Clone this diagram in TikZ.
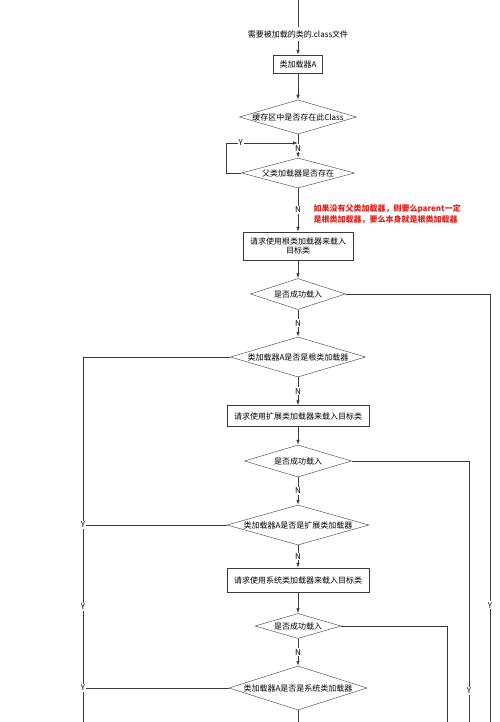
\documentclass[tikz,border=0pt]{standalone}
\usepackage{fontspec}
\setmainfont{Noto Sans CJK SC}
\usetikzlibrary{shapes.geometric,arrows.meta}
\definecolor{linegray}{HTML}{3A3A3A}
\definecolor{notered}{HTML}{E3211C}

\begin{document}
\begin{tikzpicture}[x=1pt,y=-1pt,
  every node/.style={font=\fontsize{8}{9.6}\selectfont, text=black},
  proc/.style={draw=linegray, rectangle, inner sep=0pt, minimum height=20pt, align=center},
  dec/.style={draw=linegray, diamond, aspect=3.4, inner sep=0pt},
  lbl/.style={fill=white, inner sep=1pt},
  flow/.style={draw=linegray, line width=0.8pt, -{Latex[length=5pt,width=3.5pt]}},
  wire/.style={draw=linegray, line width=0.8pt}]
\useasboundingbox (0,0) rectangle (500,722);
%\draw[step=50pt,gray,very thin] (0,0) grid (500,722); %background grid

% main column
\coordinate (top) at (298,0);
\node (src) at (298,34) {需要被加载的类的.class文件};
\node[proc, minimum width=49pt, minimum height=18pt] (loadA) at (298,64) {类加载器A};
\node[dec, minimum width=117pt, minimum height=34pt] (cache) at (298,117) {缓存区中是否存在此Class};
\node[dec, minimum width=113pt, minimum height=30pt] (parent) at (298,173) {父类加载器是否存在};
\node[proc, minimum width=110pt, minimum height=28pt] (reqroot) at (298,246) {请求使用根类加载器来载入\\目标类};
\node[dec, minimum width=95pt, minimum height=31pt] (ok1) at (298,294) {是否成功载入};
\node[dec, minimum width=135pt, minimum height=40pt] (isroot) at (298,357) {类加载器A是否是根类加载器};
\node[proc, minimum width=142pt, minimum height=21pt] (reqext) at (298,416) {请求使用扩展类加载器来载入目标类};
\node[dec, minimum width=107pt, minimum height=32pt] (ok2) at (298,461) {是否成功载入};
\node[dec, minimum width=142pt, minimum height=40pt] (isext) at (298,525) {类加载器A是否是扩展类加载器};
\node[proc, minimum width=142pt, minimum height=24pt] (reqsys) at (298,580) {请求使用系统类加载器来载入目标类};
\node[dec, minimum width=86pt, minimum height=25pt] (ok3) at (298,626) {是否成功载入};
\node[dec, minimum width=138pt, minimum height=44pt] (issys) at (298,688) {类加载器A是否是系统类加载器};
\coordinate (bot) at (298,722);

% note
\node[anchor=west, align=left, text=notered, font=\fontsize{8}{11}\selectfont\bfseries] (note) at (310,214.5)
  {如果没有父类加载器，则要么parent一定\\是根类加载器，要么本身就是根类加载器};

% free ends
\coordinate (loopin) at (298,143);
\coordinate (lroot) at (83,357);
\coordinate (lext) at (83,525);
\coordinate (lsys) at (83,688);
\coordinate (lbot) at (83,722);
\coordinate (r1) at (490,294);
\coordinate (r1b) at (490,722);
\coordinate (r2) at (469,461);
\coordinate (r2b) at (469,722);
\coordinate (r3) at (447,626);
\coordinate (r3b) at (447,722);

% down the middle
\draw[wire] (top) -- (src);
\draw[flow] (src) -- (loadA);
\draw[flow] (loadA) -- (cache);
\draw[flow] (cache) -- node[lbl, pos=0.6]{N} (parent);
\draw[flow] (parent) -- node[lbl]{N} (reqroot);
\draw[flow] (reqroot) -- (ok1);
\draw[flow] (ok1) -- node[lbl]{N} (isroot);
\draw[flow] (isroot) -- node[lbl]{N} (reqext);
\draw[flow] (reqext) -- (ok2);
\draw[flow] (ok2) -- node[lbl]{N} (isext);
\draw[flow] (isext) -- node[lbl]{N} (reqsys);
\draw[flow] (reqsys) -- (ok3);
\draw[flow] (ok3) -- node[lbl]{N} (issys);
\draw[wire] (issys) -- (bot);

% Y loop back
\draw[flow] (parent.west) -- ++(-15,0) |- node[lbl, pos=0.6]{Y} (loopin);

% Y branches left
\draw[wire] (isroot.west) -- (lroot) -- node[lbl, pos=0.685]{Y} (lbot);
\draw[wire] (isext.west) -- (lext) node[lbl, above=-4pt]{Y};
\draw[wire] (issys.west) -- (lsys) node[lbl]{Y};

% Y branches right
\draw[wire] (ok1.east) -- (r1) -- node[lbl, pos=0.727]{Y} (r1b);
\draw[wire] (ok2.east) -- (r2) -- node[lbl, pos=0.88]{Y} (r2b);
\draw[wire] (ok3.east) -- (r3) -- (r3b);
\end{tikzpicture}
\end{document}
